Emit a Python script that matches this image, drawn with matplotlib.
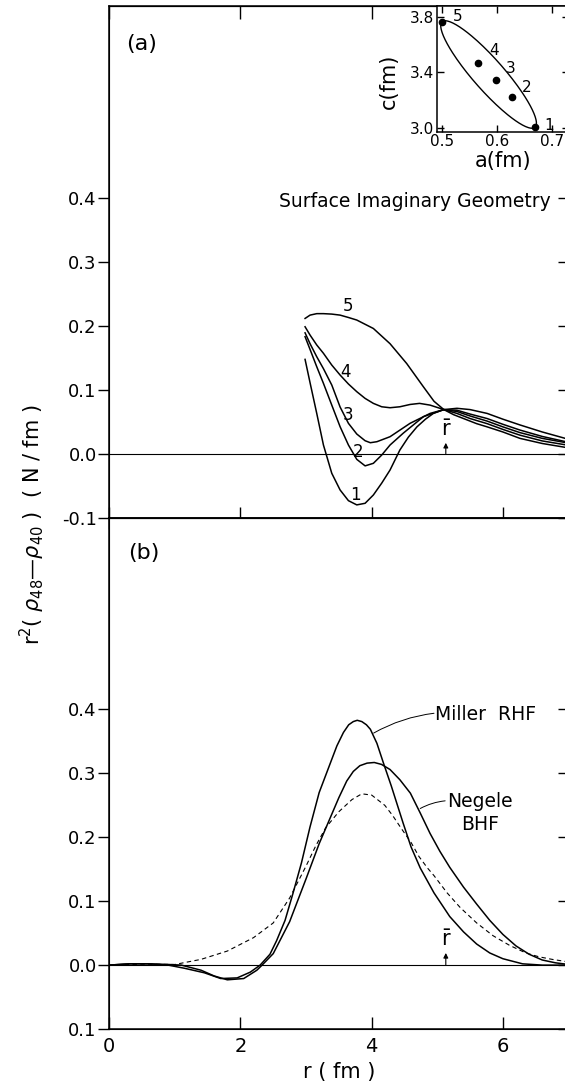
import numpy as np
import matplotlib.pyplot as plt

# ---- panel (a): surface imaginary geometry, curves 1..5 ----
x1 = [2.985, 3.061, 3.163, 3.265, 3.392, 3.519, 3.646, 3.773, 3.90, 4.026, 4.153, 4.28, 4.43, 4.56, 4.69, 4.82, 4.94, 5.1, 5.3, 5.5, 5.76, 6.0, 6.26, 6.6, 6.95]
y1 = [0.1475, 0.111, 0.063, 0.0136, -0.0306, -0.0567, -0.0734, -0.080, -0.0775, -0.0645, -0.046, -0.0255, 0.0058, 0.026, 0.042, 0.054, 0.063, 0.069, 0.071, 0.069, 0.063, 0.054, 0.045, 0.034, 0.024]
x2 = [2.985, 3.061, 3.163, 3.265, 3.392, 3.519, 3.646, 3.773, 3.90, 4.026, 4.153, 4.28, 4.48, 4.79, 5.1, 5.3, 5.5, 5.76, 6.0, 6.26, 6.6, 6.95]
y2 = [0.183, 0.163, 0.136, 0.110, 0.076, 0.0422, 0.0136, -0.0088, -0.019, -0.015, -0.0021, 0.0136, 0.032, 0.058, 0.069, 0.068, 0.062, 0.055, 0.046, 0.037, 0.027, 0.019]
x3 = [2.985, 3.061, 3.163, 3.265, 3.392, 3.519, 3.646, 3.773, 3.90, 3.98, 4.08, 4.28, 4.585, 4.89, 5.1, 5.3, 5.5, 5.76, 6.0, 6.26, 6.6, 6.95]
y3 = [0.189, 0.172, 0.1516, 0.133, 0.1074, 0.073, 0.0475, 0.0308, 0.0203, 0.0172, 0.0188, 0.0266, 0.0475, 0.063, 0.069, 0.066, 0.059, 0.051, 0.042, 0.033, 0.024, 0.0175]
x4 = [2.985, 3.061, 3.163, 3.265, 3.392, 3.519, 3.646, 3.773, 3.90, 4.026, 4.153, 4.28, 4.43, 4.585, 4.73, 4.89, 5.04, 5.1, 5.3, 5.5, 5.76, 6.0, 6.26, 6.6, 6.95]
y4 = [0.1985, 0.1855, 0.170, 0.157, 0.1386, 0.123, 0.109, 0.097, 0.0865, 0.0787, 0.0734, 0.0719, 0.0734, 0.077, 0.0787, 0.076, 0.071, 0.069, 0.063, 0.055, 0.047, 0.038, 0.029, 0.020, 0.014]
x5 = [2.985, 3.061, 3.163, 3.265, 3.392, 3.519, 3.646, 3.773, 4.026, 4.28, 4.534, 4.788, 4.95, 5.1, 5.25, 5.4, 5.6, 5.76, 6.0, 6.26, 6.6, 6.95]
y5 = [0.2115, 0.2167, 0.219, 0.219, 0.2183, 0.2167, 0.213, 0.209, 0.1958, 0.172, 0.141, 0.1047, 0.082, 0.069, 0.061, 0.055, 0.047, 0.042, 0.034, 0.024, 0.016, 0.010]
curve_names = ["1", "2", "3", "4", "5"]
name_x = [3.75, 3.80, 3.64, 3.60, 3.64]
name_y = [-0.064, 0.002, 0.060, 0.128, 0.231]

# inset: a and c of the five geometries
inset_a = [0.500, 0.565, 0.598, 0.627, 0.669]
inset_c = [3.766, 3.469, 3.344, 3.223, 3.002]
inset_names = ["5", "4", "3", "2", "1"]
ellipse_ratio = 0.22

# ---- panel (b): Miller RHF, Negele BHF, dashed ----
miller_x = [0, 0.3, 0.6, 0.9, 1.15, 1.45, 1.7, 1.95, 2.15, 2.3, 2.45, 2.55, 2.68, 2.8, 2.93, 3.06, 3.2, 3.37, 3.47, 3.57, 3.65, 3.72, 3.78, 3.85, 3.92, 3.98, 4.08, 4.18, 4.3, 4.48, 4.6, 4.74, 4.95, 5.19, 5.4, 5.6, 5.8, 6.0, 6.3, 6.6, 7.0]
miller_y = [0, 0.002, 0.002, 0.0, -0.005, -0.012, -0.021, -0.020, -0.011, 0.0, 0.017, 0.038, 0.07, 0.112, 0.16, 0.216, 0.27, 0.316, 0.343, 0.364, 0.376, 0.381, 0.383, 0.381, 0.376, 0.369, 0.347, 0.316, 0.28, 0.222, 0.185, 0.152, 0.113, 0.076, 0.052, 0.033, 0.019, 0.010, 0.002, 0.0, 0.0]
negele_x = [0, 0.3, 0.6, 0.9, 1.1, 1.4, 1.6, 1.8, 2.05, 2.25, 2.33, 2.5, 2.75, 3.0, 3.2, 3.4, 3.5, 3.62, 3.72, 3.82, 3.93, 4.04, 4.15, 4.28, 4.43, 4.59, 4.74, 4.89, 5.04, 5.19, 5.4, 5.6, 5.8, 6.0, 6.2, 6.4, 6.6, 6.8, 7.0]
negele_y = [0, 0.002, 0.002, 0.001, 0.0, -0.008, -0.017, -0.023, -0.021, -0.008, 0.0, 0.018, 0.068, 0.135, 0.19, 0.238, 0.262, 0.288, 0.303, 0.312, 0.316, 0.317, 0.314, 0.306, 0.29, 0.269, 0.238, 0.206, 0.178, 0.153, 0.122, 0.0955, 0.07, 0.048, 0.030, 0.017, 0.008, 0.0036, 0.001]
dash_x = [0, 0.5, 1.0, 1.4, 1.8, 2.2, 2.5, 2.75, 3.0, 3.15, 3.3, 3.5, 3.7, 3.85, 4.0, 4.2, 4.32, 4.45, 4.6, 4.72, 4.85, 4.95, 5.15, 5.35, 5.6, 5.85, 6.1, 6.35, 6.55, 6.75, 7.0]
dash_y = [0, 0.0015, 0.001, 0.009, 0.022, 0.043, 0.066, 0.105, 0.155, 0.187, 0.215, 0.24, 0.259, 0.268, 0.266, 0.25, 0.234, 0.214, 0.192, 0.17, 0.152, 0.14, 0.113, 0.09, 0.066, 0.046, 0.031, 0.019, 0.013, 0.009, 0.005]

r_bar = 5.13

xticks = [0, 2, 4, 6]
yticks = [-0.1, 0.0, 0.1, 0.2, 0.3, 0.4]
ylabels_a = ["-0.1", "0.0", "0.1", "0.2", "0.3", "0.4"]
ylabels_b = ["0.1", "0.0", "0.1", "0.2", "0.3", "0.4"]

plt.rcParams["font.family"] = "DejaVu Sans"
fig = plt.figure(figsize=(5.65, 10.91), dpi=100)
axa = fig.add_axes([0.1933, 0.5255, 0.8129, 0.469])
axb = fig.add_axes([0.1933, 0.0568, 0.8129, 0.4687])

for ax, labs in ((axa, ylabels_a), (axb, ylabels_b)):
    ax.set_xlim(0, 7)
    ax.set_ylim(-0.1, 0.7)
    ax.set_yticks(yticks)
    ax.set_yticklabels(labs, fontsize=13)
    ax.tick_params(axis="y", direction="out", length=8, width=1, pad=1)
    ax.set_xticks(xticks)
    for s in ax.spines.values():
        s.set_linewidth(1.1)
    ax.axhline(0, color="k", lw=0.8)
    axr = ax.twinx()
    axr.set_ylim(-0.1, 0.7)
    axr.set_yticks(yticks)
    axr.tick_params(axis="y", direction="in", length=8, width=1, labelright=False)

# panel (a)
axa.tick_params(axis="x", direction="inout", length=16, width=1, labelbottom=False)
sec = axa.secondary_xaxis("top")
sec.set_xticks(xticks)
sec.tick_params(direction="in", length=9, width=1, labeltop=False)

for xs, ys in ((x1, y1), (x2, y2), (x3, y3), (x4, y4), (x5, y5)):
    axa.plot(xs, ys, color="k", lw=1.1)
for i in range(5):
    axa.text(name_x[i], name_y[i], curve_names[i], fontsize=12, ha="center", va="center")

axa.annotate("", xy=(r_bar, 0.017), xytext=(r_bar, 0.0),
             arrowprops=dict(arrowstyle="-|>", color="k", lw=0.8, mutation_scale=7, shrinkA=0, shrinkB=0))
axa.text(r_bar, 0.022, r"$\mathregular{\bar{r}}$", fontsize=15, ha="center", va="bottom")
axa.text(0.49, 0.64, "(a)", fontsize=16, ha="center", va="center")
axa.text(6.73, 0.394, "Surface Imaginary Geometry", fontsize=13.5, ha="right", va="center")

# panel (b)
axb.tick_params(axis="x", direction="in", length=9, width=1, top=False, labelsize=14, pad=6)
axb.plot(miller_x, miller_y, color="k", lw=1.1)
axb.plot(negele_x, negele_y, color="k", lw=1.1)
axb.plot(dash_x, dash_y, color="k", lw=0.8, linestyle=(0, (4, 3)))
axb.annotate("", xy=(r_bar, 0.019), xytext=(r_bar, 0.0),
             arrowprops=dict(arrowstyle="-|>", color="k", lw=0.8, mutation_scale=7, shrinkA=0, shrinkB=0))
axb.text(r_bar, 0.024, r"$\mathregular{\bar{r}}$", fontsize=15, ha="center", va="bottom")
axb.text(0.53, 0.645, "(b)", fontsize=16, ha="center", va="center")

axb.text(4.96, 0.392, "Miller  RHF", fontsize=13.5, ha="left", va="center")
axb.annotate("", xy=(4.03, 0.363), xytext=(4.95, 0.394),
             arrowprops=dict(arrowstyle="-", color="k", lw=0.7, connectionstyle="arc3,rad=0.1", shrinkA=0, shrinkB=0))
axb.text(5.65, 0.238, "Negele\nBHF", fontsize=13.5, ha="center", va="center", linespacing=1.25)
axb.annotate("", xy=(4.74, 0.245), xytext=(5.12, 0.257),
             arrowprops=dict(arrowstyle="-", color="k", lw=0.7, connectionstyle="arc3,rad=0.1", shrinkA=0, shrinkB=0))
axb.set_xlabel("r ( fm )", fontsize=15, labelpad=4)

fig.text(0.057, 0.519, r"r$^2$( $\rho_{48}$—$\rho_{40}$ )  ( N / fm )", rotation=90,
         fontsize=15, ha="center", va="center")

# inset
axi = fig.add_axes([0.7729, 0.8793, 0.2333, 0.1152])
axi.set_xlim(0.49, 0.73)
axi.set_ylim(2.97, 3.88)
axi.set_xticks([0.5, 0.6, 0.7])
axi.set_yticks([3.0, 3.4, 3.8])
axi.tick_params(direction="in", length=5, width=1, labelsize=11, pad=2, right=True, top=True)
for s in axi.spines.values():
    s.set_linewidth(1.1)
axi.set_xlabel("a(fm)", fontsize=15, labelpad=1)
axi.set_ylabel("c(fm)", fontsize=15)
axi.yaxis.set_label_coords(-0.29, 0.40)

# ellipse with its tips on points 5 and 1, built in pixel space
p5 = axi.transData.transform((inset_a[0], inset_c[0]))
p1 = axi.transData.transform((inset_a[-1], inset_c[-1]))
ctr = (p5 + p1) / 2
u = (p1 - p5) / 2
v = np.array([-u[1], u[0]]) * ellipse_ratio
t = np.linspace(0, 2 * np.pi, 200)
pts = ctr + np.outer(np.cos(t), u) + np.outer(np.sin(t), v)
ell = axi.transData.inverted().transform(pts)
axi.plot(ell[:, 0], ell[:, 1], color="k", lw=1.0)
axi.plot(inset_a, inset_c, "o", color="k", markersize=4.5)
offs = [(8, 4), (8, 9), (7, 8), (7, 7), (7, 1)]
for i in range(5):
    axi.annotate(inset_names[i], (inset_a[i], inset_c[i]), xytext=offs[i], textcoords="offset points",
                 fontsize=11, ha="left", va="center")

fig.savefig("out.png", dpi=100)
